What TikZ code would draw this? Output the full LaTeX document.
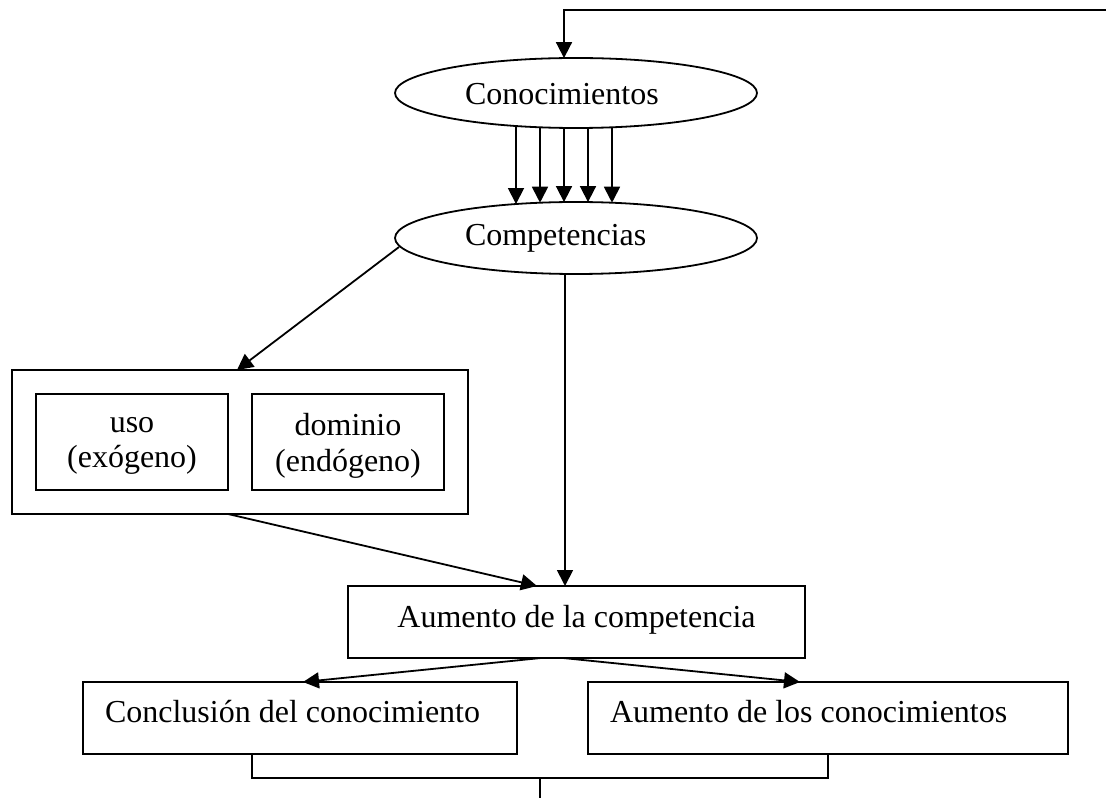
\documentclass[tikz,border=0pt]{standalone}
\usepackage{fontspec}
\setmainfont{Liberation Serif}
\usetikzlibrary{arrows.meta,calc,shapes.geometric}
\begin{document}
\begin{tikzpicture}[x=0.75pt,y=-0.75pt,
  every node/.style={inner sep=0pt,outer sep=0pt},
  lbl/.style={font=\fontsize{24}{28}\selectfont},
  lbltwo/.style={font=\fontsize{24}{26.5}\selectfont,align=center},
  ell/.style={draw,ellipse,line width=1.35pt,minimum width=271.5pt},
  boxn/.style={draw,rectangle,line width=1.35pt},
  conn/.style={line width=1.35pt},
  arr/.style={conn,-{Triangle[length=12pt,width=12pt]}},
]
\useasboundingbox (0,0) rectangle (1106,798);

% nodes
\node[ell,minimum height=52.5pt] (conoc) at (576,93) {};
\node[lbl,anchor=base west] (conocT) at (465,105) {Conocimientos};
\node[ell,minimum height=54pt] (comp) at (576,238) {};
\node[lbl,anchor=base west] (compT) at (465,246) {Competencias};

\node[boxn,minimum width=342pt,minimum height=108pt] (outer) at (240,442) {};
\node[boxn,minimum width=144pt,minimum height=72pt] (uso) at (132,442) {};
\node[lbltwo] (usoT) at (132,446) {uso\\(exógeno)};
\node[boxn,minimum width=144pt,minimum height=72pt] (dom) at (348,442) {};
\node[lbltwo] (domT) at (348,446) {dominio\\(endógeno)};

\node[boxn,minimum width=342.75pt,minimum height=54pt] (aum) at (576.5,622) {};
\node[lbl,anchor=base] (aumT) at (576.5,627) {Aumento de la competencia};

\node[boxn,minimum width=325.5pt,minimum height=54pt] (concl) at (300,718) {};
\node[lbl,anchor=base west] (conclT) at (105,722) {Conclusión del conocimiento};
\node[boxn,minimum width=360pt,minimum height=54pt] (los) at (828,718) {};
\node[lbl,anchor=base west] (losT) at (610,722) {Aumento de los conocimientos};

% connectors
\coordinate (topR) at (1106,10);
\draw[arr] (topR) -| ($(conoc.center)+(-12,-34.9)$);

\foreach \dx/\a/\b in {-60/33.0/33.97, -36/34.3/35.28, -12/34.9/35.92, 12/34.9/35.92, 36/34.3/35.28}
  \draw[arr] ($(conoc.center)+(\dx,\a)$) -- ($(comp.center)+(\dx,-\b)$);

\draw[arr] ($(comp.center)+(-177,9)$) -- ($(outer.north)+(-3,0)$);
\draw[arr] ($(comp.center)+(-11,35.9)$) -- ($(aum.north)+(-11.5,0)$);
\draw[arr] ($(outer.south)+(-12,0)$) -- ($(aum.north)+(-39.5,0)$);
\draw[arr] ($(aum.south)+(-35.5,0)$) -- ($(concl.north)+(3,0)$);
\draw[arr] ($(aum.south)+(-13.5,0)$) -- ($(los.north)+(-28,0)$);

\draw[conn] ($(concl.south)+(-48,0)$) |- ($(los.south)+(0,24)$) -- (los.south);
\coordinate (brk) at (540,778);
\coordinate (bot) at (540,798);
\draw[conn] (brk) -- (bot);
\end{tikzpicture}
\end{document}
